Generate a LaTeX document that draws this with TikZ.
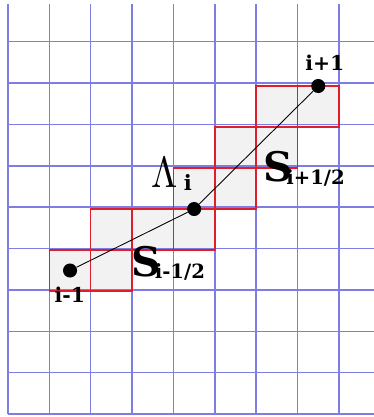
\documentclass[tikz,border=0pt]{standalone}
\usepackage{graphicx}
\usepackage{fontspec}
\newfontfamily\lblfont{DejaVu Serif}
\usetikzlibrary{positioning}
\definecolor{gridblue}{RGB}{125,125,228}
\definecolor{cellred}{RGB}{222,30,45}
\definecolor{cellgray}{RGB}{242,242,242}
\newcommand{\bigfont}{\lblfont\bfseries\fontsize{28}{28}\selectfont}
\newcommand{\subfont}{\lblfont\bfseries\fontsize{13.5}{13.5}\selectfont}

\begin{document}
\begin{tikzpicture}[
    x=1cm, y=0.991cm,
    gridline/.style={gridblue, line width=1pt},
    cell/.style={draw=cellred, line width=1pt},
    pt/.style={circle, fill=black, inner sep=0pt, minimum size=0.34cm},
    lbl/.style={inner sep=0pt, anchor=base west, font=\lblfont\bfseries\fontsize{14}{14}\selectfont},
    big/.style={inner sep=0pt, anchor=base west}
]
\useasboundingbox (-0.193,-0.073) rectangle (8.846,10.098);

% shaded cells along the path
\foreach \c/\r in {1/3,2/3,2/4,3/4,4/4,4/5,5/5,5/6,6/6,6/7,7/7}
  \fill[cellgray] (\c,\r) rectangle ++(1,1);

% grid
\draw[gridline] (0,0) grid (8.846,10);

% red cell borders
\foreach \c/\r in {1/3,2/3,2/4,3/4,4/4,4/5,5/5,5/6,6/6,6/7,7/7}
  \draw[cell] (\c,\r) rectangle ++(1,1);

% points
\node[pt] (im1) at (1.5,3.5) {};
\node[pt] (lam) at (4.5,5) {};
\node[pt] (ip1) at (7.5,8) {};
\draw[line width=0.6pt] (im1) -- (lam) -- (ip1);

% labels
\node[lbl] (tip1) at (7.18,8.38) {i+1};
\node[lbl] (tim1) at (1.12,2.71) {i-1};
\node[big] (tlam) at (3.45,5.53)
  {\scalebox{2.6}[3.0]{$\Lambda$}\kern4.5pt\raisebox{-2.5pt}{\lblfont\bfseries\fontsize{14.5}{14.5}\selectfont i}};
\node[big] (tsp) at (6.17,5.67)
  {{\bigfont S}\kern-4.5pt\raisebox{-2.3pt}{\subfont i+1/2}};
\node[big] (tsm) at (2.99,3.35)
  {{\bigfont S}\kern-4.5pt\raisebox{-1.6pt}{\subfont i-1/2}};
\end{tikzpicture}
\end{document}
